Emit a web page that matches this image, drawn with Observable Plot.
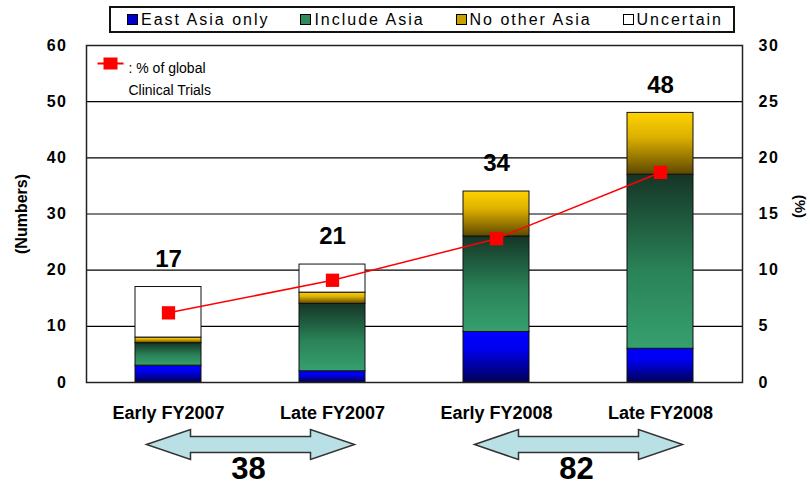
<!DOCTYPE html>
<html>
<head>
<meta charset="utf-8">
<script src="https://cdn.jsdelivr.net/npm/d3@7"></script>
<script src="https://cdn.jsdelivr.net/npm/@observablehq/plot@0.6"></script>
<style>
  body { margin: 0; background: #fff; font-family: "Liberation Sans", Arial, sans-serif; }
  #wrap { width: 810px; }
  #legend { position: relative; height: 38px; }
  #legendBox {
    position: absolute; left: 109px; top: 6px; width: 626px; height: 27px;
    box-sizing: border-box; border: 2px solid #111; display: flex; align-items: center;
    justify-content: space-between; padding-left: 16px; padding-right: 10px;
  }
  .item { display: flex; align-items: center; font-size: 16px; letter-spacing: 2px; color: #000; }
  .sw { width: 9px; height: 9px; border: 1.5px solid #000; margin-right: 3px; }
  svg [aria-label="y-axis tick label"] text { letter-spacing: 1.5px; }
</style>
</head>
<body>
<svg width="0" height="0" style="position:absolute">
  <defs>
    <linearGradient id="gBlue" x1="0" y1="0" x2="0" y2="1">
      <stop offset="0" stop-color="#0000ff"/>
      <stop offset="0.35" stop-color="#0000ee"/>
      <stop offset="1" stop-color="#00005a"/>
    </linearGradient>
    <linearGradient id="gGreen" x1="0" y1="0" x2="0" y2="1">
      <stop offset="0" stop-color="#153526"/>
      <stop offset="0.55" stop-color="#2a8258"/>
      <stop offset="1" stop-color="#36a06e"/>
    </linearGradient>
    <linearGradient id="gYellow" x1="0" y1="0" x2="0" y2="1">
      <stop offset="0" stop-color="#ffd200"/>
      <stop offset="0.4" stop-color="#ddb000"/>
      <stop offset="1" stop-color="#5e4800"/>
    </linearGradient>
  </defs>
</svg>
<div id="wrap">
  <div id="legend"><div id="legendBox"></div></div>
  <div id="chart"></div>
</div>
<script>
// ---- data ----
const periods = ["Early FY2007", "Late FY2007", "Early FY2008", "Late FY2008"];
const categories = ["East Asia only", "Include Asia", "No other Asia", "Uncertain"];
const eastAsiaOnly = [3, 2, 9, 6];
const includeAsia = [4, 12, 17, 31];
const noOtherAsia = [1, 2, 8, 11];
const uncertain = [9, 5, 0, 0];
const totals = [17, 21, 34, 48];
const pctGlobal = [6.2, 9.1, 12.8, 18.7];   // % of global clinical trials
const spanStart = ["Early FY2007", "Early FY2008"];
const spanCounts = [38, 82];
const leftTicks = [0, 10, 20, 30, 40, 50, 60];

// ---- styles ----
const barFills = ["url(#gBlue)", "url(#gGreen)", "url(#gYellow)", "#ffffff"];
const legendSwatches = ["#0000cc", "#2f8a5c", "#c9a000", "#ffffff"];

// ---- legend ----
const box = document.getElementById("legendBox");
categories.forEach((c, i) => {
  const it = document.createElement("div");
  it.className = "item";
  const sw = document.createElement("span");
  sw.className = "sw";
  sw.style.background = legendSwatches[i];
  it.appendChild(sw);
  it.appendChild(document.createTextNode(c));
  box.appendChild(it);
});

// ---- table ----
const series = [eastAsiaOnly, includeAsia, noOtherAsia, uncertain];
const rows = [];
periods.forEach((p, i) => {
  series.forEach((arr, j) => {
    if (arr[i] > 0) rows.push({period: p, category: categories[j], value: arr[i]});
  });
});
const pts = periods.map((p, i) => ({period: p, pct: pctGlobal[i], total: totals[i]}));
const spans = spanStart.map((s, i) => ({from: s, count: spanCounts[i]}));

// custom symbols
const doubleArrow = {
  draw(ctx) {
    ctx.moveTo(-104, 0); ctx.lineTo(-60, -15); ctx.lineTo(-60, -8);
    ctx.lineTo(60, -8); ctx.lineTo(60, -15); ctx.lineTo(104, 0);
    ctx.lineTo(60, 15); ctx.lineTo(60, 8); ctx.lineTo(-60, 8);
    ctx.lineTo(-60, 15); ctx.closePath();
  }
};
const lineSquare = {
  draw(ctx) {
    ctx.moveTo(-13, 0); ctx.lineTo(13, 0);
    ctx.moveTo(-6, -5); ctx.lineTo(6, -5); ctx.lineTo(6, 5); ctx.lineTo(-6, 5); ctx.closePath();
  }
};

const chart = Plot.plot({
  width: 810,
  height: 461,
  marginTop: 7,
  marginBottom: 117,
  marginLeft: 86,
  marginRight: 68,
  style: {fontFamily: "Liberation Sans, Arial, sans-serif", color: "#000", background: "#fff", overflow: "visible"},
  x: {domain: periods, paddingInner: 0.6, paddingOuter: 0.3, label: null},
  y: {domain: [0, 60], label: null},
  color: {domain: categories, range: barFills},
  marks: [
    Plot.gridY(leftTicks, {stroke: "#000", strokeOpacity: 1, strokeWidth: 1.2}),
    Plot.barY(rows, {x: "period", y: "value", fill: "category", stroke: "#111", strokeWidth: 1}),
    Plot.frame({stroke: "#222", strokeWidth: 1.5}),
    Plot.axisY({ticks: leftTicks, tickSize: 0, tickPadding: 19, fontSize: 16, fontWeight: "bold",
      label: "(Numbers)", labelArrow: "none", labelAnchor: "center", labelOffset: 71}),
    Plot.axisY({anchor: "right", ticks: leftTicks, tickFormat: d => d / 2, tickSize: 0, tickPadding: 16,
      fontSize: 16, fontWeight: "bold", label: null}),
    Plot.text(["(%)"], {frameAnchor: "right", dx: 57, dy: 4, rotate: 90, text: d => d, fontSize: 15, fontWeight: "bold"}),
    Plot.axisX({tickSize: 0, tickPadding: 24, fontSize: 18, fontWeight: "bold", label: null}),
    Plot.line(pts, {x: "period", y: d => d.pct * 2, stroke: "#ff0000", strokeWidth: 1.5}),
    Plot.dot(pts, {x: "period", y: d => d.pct * 2, symbol: "square", r: 7.5, fill: "#ff0000", stroke: "none"}),
    Plot.text(pts, {x: "period", y: "total", text: d => String(d.total), dy: -28, fontSize: 24, fontWeight: "bold"}),
    // inset legend for the line
    Plot.dot([0], {frameAnchor: "top-left", dx: 24, dy: 18, symbol: lineSquare, fill: "#ff0000", stroke: "#ff0000", strokeWidth: 2}),
    Plot.text([": % of global"], {frameAnchor: "top-left", dx: 42, dy: 18, textAnchor: "start", fontSize: 14, text: d => d}),
    Plot.text(["Clinical Trials"], {frameAnchor: "top-left", dx: 42, dy: 40, textAnchor: "start", fontSize: 14, text: d => d}),
    // period arrows and counts
    Plot.dot(spans, {x: "from", frameAnchor: "bottom", dx: 82, dy: 62, symbol: doubleArrow, fill: "#b9e0e4", stroke: "#333", strokeWidth: 1.5}),
    Plot.text(spans, {x: "from", frameAnchor: "bottom", dx: 80, dy: 96, text: d => String(d.count), fontSize: 31, fontWeight: "bold"})
  ]
});
document.getElementById("chart").appendChild(chart);
</script>
</body>
</html>
